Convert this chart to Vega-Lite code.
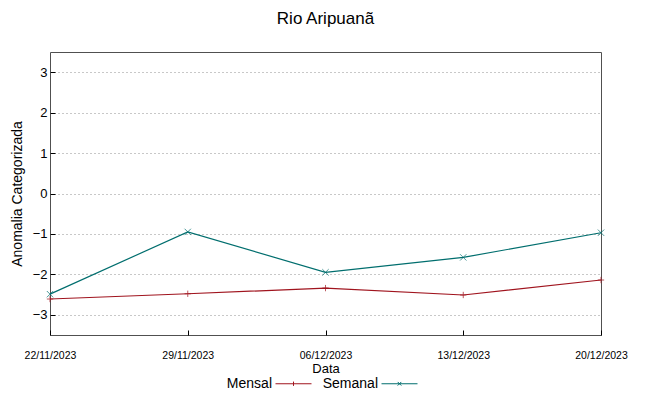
{
  "$schema": "https://vega.github.io/schema/vega-lite/v6.json",
  "autosize": "none",
  "width": 551,
  "height": 283,
  "padding": {"left": 50, "top": 52, "right": 48, "bottom": 61},
  "background": "white",
  "config": {
    "font": "Liberation Sans",
    "view": {"stroke": "#505050", "strokeWidth": 1}
  },
  "title": {"text": "Rio Aripuanã", "fontSize": 17, "fontWeight": "normal", "font": "Liberation Sans", "color": "#000000", "baseline": "alphabetic", "offset": 11, "anchor": "middle"},
  "data": {"values": [
    {"Data": "22/11/2023", "serie": "Mensal", "valor": -2.61},
    {"Data": "29/11/2023", "serie": "Mensal", "valor": -2.48},
    {"Data": "06/12/2023", "serie": "Mensal", "valor": -2.34},
    {"Data": "13/12/2023", "serie": "Mensal", "valor": -2.51},
    {"Data": "20/12/2023", "serie": "Mensal", "valor": -2.14},
    {"Data": "22/11/2023", "serie": "Semanal", "valor": -2.49},
    {"Data": "29/11/2023", "serie": "Semanal", "valor": -0.95},
    {"Data": "06/12/2023", "serie": "Semanal", "valor": -1.95},
    {"Data": "13/12/2023", "serie": "Semanal", "valor": -1.58},
    {"Data": "20/12/2023", "serie": "Semanal", "valor": -0.97}
  ]},
  "encoding": {
    "x": {"field": "Data", "type": "ordinal", "sort": null,
      "scale": {"type": "point", "padding": 0},
      "axis": {"title": "Data", "titleFontSize": 13, "titleFontWeight": "normal", "titleColor": "#000", "titlePadding": 2,
        "labelAngle": 0, "labelFontSize": 10.5, "labelColor": "#000", "labelPadding": 20,
        "tickSize": -5, "tickColor": "#000", "domain": false, "grid": false}},
    "y": {"field": "valor", "type": "quantitative",
      "scale": {"domain": [-3.5, 3.5], "nice": false, "zero": false},
      "axis": {"title": "Anomalia Categorizada", "titleFontSize": 14, "titleFontWeight": "normal", "titleColor": "#000", "titlePadding": 8,
        "values": [-3, -2, -1, 0, 1, 2, 3], "labelFontSize": 13, "labelColor": "#000", "labelPadding": 8,
        "tickSize": -5, "tickColor": "#000", "domain": false,
        "grid": true, "gridDash": [1, 3], "gridColor": "#909090", "gridWidth": 1}},
    "color": {"field": "serie", "type": "nominal",
      "scale": {"domain": ["Mensal", "Semanal"], "range": ["#a0141e", "#006e6e"]},
      "legend": {"title": null, "orient": "none", "legendX": 225, "legendY": 313, "direction": "horizontal",
        "labelFontSize": 14, "labelColor": "#000", "labelAlign": "right", "labelOffset": -40,
        "symbolSize": 1296, "symbolStrokeWidth": 1, "symbolFillColor": "transparent", "columnPadding": 8,
        "encode": {"symbols": {"update": {"shape": {"signal": "datum.value == 'Mensal' ? 'M-1,0L1,0M0,-0.12L0,0.12' : 'M-1,0L1,0M-0.1,-0.1L0.1,0.1M-0.1,0.1L0.1,-0.1'"}, "fill": {"value": "transparent"}}}}}}
  },
  "layer": [
    {"mark": {"type": "line", "strokeWidth": 1.2}},
    {"transform": [{"filter": "datum.serie == 'Mensal'"}],
      "mark": {"type": "point", "filled": false, "size": 40, "strokeWidth": 1, "shape": "M-1,0L1,0M0,-1L0,1"}},
    {"transform": [{"filter": "datum.serie == 'Semanal'"}],
      "mark": {"type": "point", "filled": false, "size": 40, "strokeWidth": 1, "shape": "M-1,-1L1,1M-1,1L1,-1"}}
  ]
}
